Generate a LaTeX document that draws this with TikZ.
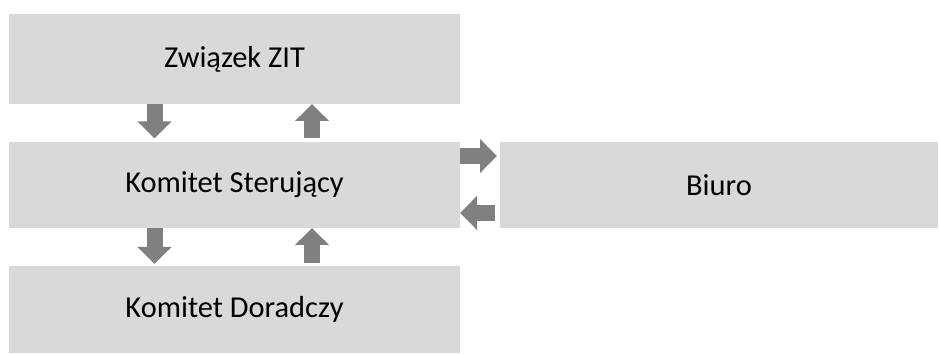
\documentclass[tikz,border=0pt]{standalone}
\usepackage{fontspec}
\setmainfont{Carlito}
\usepackage{xcolor}
\usepackage{tikz}
\usetikzlibrary{arrows.meta,positioning}

\definecolor{boxgray}{HTML}{D9D9D9}
\definecolor{arrowgray}{HTML}{808080}

\begin{document}
\begin{tikzpicture}[
        unit/.style={fill=boxgray, draw=none, rectangle, inner sep=0pt, outer sep=0pt,
            minimum width=9.02cm, minimum height=1.72cm,
            font=\fontsize{17.3}{20}\selectfont},
        flow/.style={draw=arrowgray, line width=0.32cm,
            -{Triangle[width=0.66cm,length=0.34cm]}}
    ]
        \useasboundingbox (0,0) rectangle (18.78,-7.08);
        \node[unit, minimum height=1.8cm] (zit) at (4.69,-1.18) {Związek ZIT};
        \node[unit, below=0.76cm of zit] (ks) {Komitet Sterujący};
        \node[unit, minimum height=1.74cm, below=0.76cm of ks] (kd) {Komitet Doradczy};
        \node[unit, minimum width=8.76cm, right=0.8cm of ks] (biuro) {Biuro};
        % pionowe
        \draw[flow, shorten >=0.07cm] ([xshift=-1.6cm]zit.south) -- ([xshift=-1.6cm]ks.north);
        \draw[flow, shorten <=0.07cm] ([xshift=1.55cm]ks.north) -- ([xshift=1.55cm]zit.south);
        \draw[flow, shorten >=0.04cm] ([xshift=-1.6cm]ks.south) -- ([xshift=-1.6cm]kd.north);
        \draw[flow, shorten <=0.06cm] ([xshift=1.55cm]kd.north) -- ([xshift=1.55cm]ks.south);
        % poziome
        \draw[flow, shorten >=0.06cm] ([yshift=0.58cm]ks.east) -- ([yshift=0.58cm]biuro.west);
        \draw[flow, shorten <=0.1cm] ([yshift=-0.56cm]biuro.west) -- ([yshift=-0.56cm]ks.east);
    \end{tikzpicture}
\end{document}
